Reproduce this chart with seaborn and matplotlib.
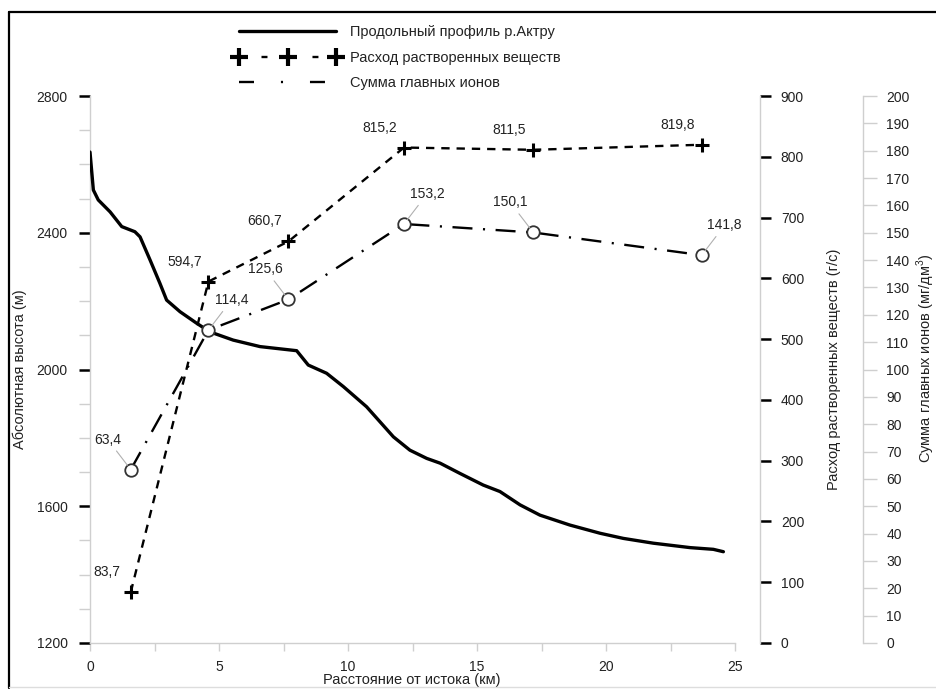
import matplotlib
matplotlib.use("Agg")
import matplotlib.pyplot as plt
import numpy as np
import pandas as pd
import seaborn as sns
from matplotlib.lines import Line2D
from matplotlib.ticker import MultipleLocator

# ---------------- data ----------------
profile_km = [0.0, 0.13, 0.32, 0.78, 1.23, 1.74, 1.94, 2.33, 2.71, 2.97, 3.49,
              4.14, 4.65, 5.55, 6.59, 8.01, 8.46, 9.17, 9.82, 10.72, 11.76,
              12.40, 13.05, 13.57, 14.34, 15.24, 15.89, 16.67, 17.44, 18.60,
              19.77, 20.67, 21.83, 23.26, 24.16, 24.55]
profile_elev = [2636, 2525, 2496, 2461, 2418, 2403, 2388, 2320, 2252, 2203, 2169,
                2135, 2110, 2086, 2067, 2055, 2013, 1989, 1950, 1891, 1803,
                1764, 1740, 1726, 1696, 1662, 1643, 1604, 1574, 1545,
                1521, 1506, 1492, 1479, 1474, 1467]

sample_km = [1.58, 4.59, 7.69, 12.17, 17.18, 23.71]
flux_gs = [83.7, 594.7, 660.7, 815.2, 811.5, 819.8]
ions_mg = [63.4, 114.4, 125.6, 153.2, 150.1, 141.8]
flux_labels = ["83,7", "594,7", "660,7", "815,2", "811,5", "819,8"]
ions_labels = ["63,4", "114,4", "125,6", "153,2", "150,1", "141,8"]
ions_label_side = [-1, 1, -1, 1, -1, 1]

legend_labels = ["Продольный профиль р.Актру",
                 "Расход растворенных веществ",
                 "Сумма главных ионов"]
xlabel = "Расстояние от истока (км)"
ylabel_left = "Абсолютная высота (м)"
ylabel_flux = "Расход растворенных веществ (г/с)"
ylabel_ions = "Сумма главных ионов (мг/дм$^3$)"

# ---------------- style ----------------
sns.set_theme(style="white")
plt.rcParams["font.family"] = ["Liberation Sans", "DejaVu Sans"]
plt.rcParams["mathtext.fontset"] = "custom"
plt.rcParams["mathtext.rm"] = "Liberation Sans"
plt.rcParams["lines.scale_dashes"] = False

W, H = 936, 689
fig = plt.figure(figsize=(W / 100, H / 100), dpi=100)
fig.patch.set_facecolor("white")
ax = fig.add_axes([90 / W, 1 - 643 / H, 645 / W, 547 / H])
ax2 = ax.twinx()
ax3 = ax.twinx()

TXT = "#222222"
GRAY = "#cfcfcf"

FLUX_DASH = (0, (6, 5))
IONS_DASH = (0, (14.4, 7.6, 1.5, 7.6))

df_prof = pd.DataFrame({"km": profile_km, "elev": profile_elev})
df_s = pd.DataFrame({"km": sample_km, "flux": flux_gs, "ions": ions_mg})

sns.lineplot(data=df_prof, x="km", y="elev", ax=ax, color="black", lw=2.4,
             estimator=None, sort=False, zorder=3)

sns.lineplot(data=df_s, x="km", y="flux", ax=ax2, color="black", lw=1.7,
             estimator=None, sort=False, marker="+", markersize=10,
             markeredgewidth=2.2, markeredgecolor="black",
             linestyle=FLUX_DASH, zorder=3)

sns.lineplot(data=df_s, x="km", y="ions", ax=ax3, color="black", lw=1.7,
             estimator=None, sort=False, marker="o", markersize=9,
             markerfacecolor="white", markeredgecolor="#333333",
             markeredgewidth=1.3, linestyle=IONS_DASH, zorder=4)

# ---------------- axes ----------------
ax.set_xlim(0, 25)
ax.set_ylim(1200, 2800)
ax2.set_ylim(0, 900)
ax3.set_ylim(0, 200)

ax.xaxis.set_major_locator(MultipleLocator(5))
ax.xaxis.set_minor_locator(MultipleLocator(2.5))
ax.yaxis.set_major_locator(MultipleLocator(400))
ax.yaxis.set_minor_locator(MultipleLocator(100))
ax2.yaxis.set_major_locator(MultipleLocator(100))
ax3.yaxis.set_major_locator(MultipleLocator(10))

for a in (ax, ax2, ax3):
    for s in a.spines.values():
        s.set_visible(False)
        s.set_color(GRAY)
        s.set_linewidth(1.0)
ax.spines["left"].set_visible(True)
ax.spines["bottom"].set_visible(True)
ax2.spines["right"].set_visible(True)
ax3.spines["right"].set_visible(True)
ax2.spines["right"].set_position(("outward", 18))
ax3.spines["right"].set_position(("outward", 92))

ax.tick_params(axis="y", which="major", direction="out", length=8, width=1.8,
               color="black", labelsize=10, labelcolor=TXT, pad=8, left=True)
ax.tick_params(axis="y", which="minor", direction="out", length=8, width=1.0,
               color=GRAY, left=True)
ax.tick_params(axis="x", which="major", direction="out", length=6, width=1.0,
               color=GRAY, labelsize=10, labelcolor=TXT, pad=6, bottom=True)
ax.tick_params(axis="x", which="minor", direction="out", length=6, width=1.0,
               color=GRAY, bottom=True)
ax2.tick_params(axis="y", which="major", direction="out", length=8, width=1.8,
                color="black", labelsize=10, labelcolor=TXT, pad=7, right=True)
ax3.tick_params(axis="y", which="major", direction="out", length=10, width=1.0,
                color=GRAY, labelsize=10, labelcolor=TXT, pad=7, right=True)

ax.set_xlabel(xlabel, fontsize=10.5, color=TXT)
ax.set_ylabel(ylabel_left, fontsize=10.5, color=TXT)
ax2.set_ylabel(ylabel_flux, fontsize=10.5, color=TXT)
ax3.set_ylabel(ylabel_ions, fontsize=10.5, color=TXT)
ax.xaxis.set_label_coords(0.499, -0.054)
ax.yaxis.set_label_coords(-0.097, 0.5)
ax2.yaxis.set_label_coords(1.142, 0.5)
ax3.yaxis.set_label_coords(1.278, 0.52)

# ---------------- value labels ----------------
for xk, v, lab in zip(sample_km, flux_gs, flux_labels):
    ax2.annotate(lab, xy=(xk, v), xytext=(-24, 20), textcoords="offset pixels",
                 ha="center", va="center", fontsize=10, color=TXT, zorder=5)

for xk, v, lab, side in zip(sample_km, ions_mg, ions_labels, ions_label_side):
    ax3.annotate(lab, xy=(xk, v), xytext=(side * 23, 30),
                 textcoords="offset pixels", ha="center", va="center",
                 fontsize=10, color=TXT, zorder=5,
                 arrowprops=dict(arrowstyle="-", color="#b0b0b0", lw=0.8,
                                 shrinkA=1, shrinkB=4))

# ---------------- legend ----------------
handles = [
    Line2D([], [], color="black", lw=2.4),
    Line2D([], [], color="black", lw=1.7, linestyle=(20.5, (4.3, 32.4)),
           marker="+", markersize=13, markeredgewidth=3),
    Line2D([], [], color="black", lw=1.7, linestyle=(0, (10.8, 19.4, 1.5, 19.4))),
]
fig.legend(handles, legend_labels, loc="upper left",
           bbox_to_anchor=(235 / W, 1 - 25 / H), frameon=False,
           handlelength=7.2, numpoints=3, fontsize=10.5, labelspacing=0.8,
           borderpad=0, borderaxespad=0, handletextpad=0.7,
           labelcolor=TXT)

# ---------------- outer frame ----------------
fig.add_artist(Line2D([9 / W, 9 / W], [1 - 688 / H, 1 - 12 / H],
                      transform=fig.transFigure, color="black", lw=1.6))
fig.add_artist(Line2D([9 / W, 1.0], [1 - 12 / H, 1 - 12 / H],
                      transform=fig.transFigure, color="black", lw=1.6))
fig.add_artist(Line2D([9 / W, 1.0], [1 - 687 / H, 1 - 687 / H],
                      transform=fig.transFigure, color="#dddddd", lw=1.0))

fig.savefig("out.png", dpi=100, facecolor="white")
